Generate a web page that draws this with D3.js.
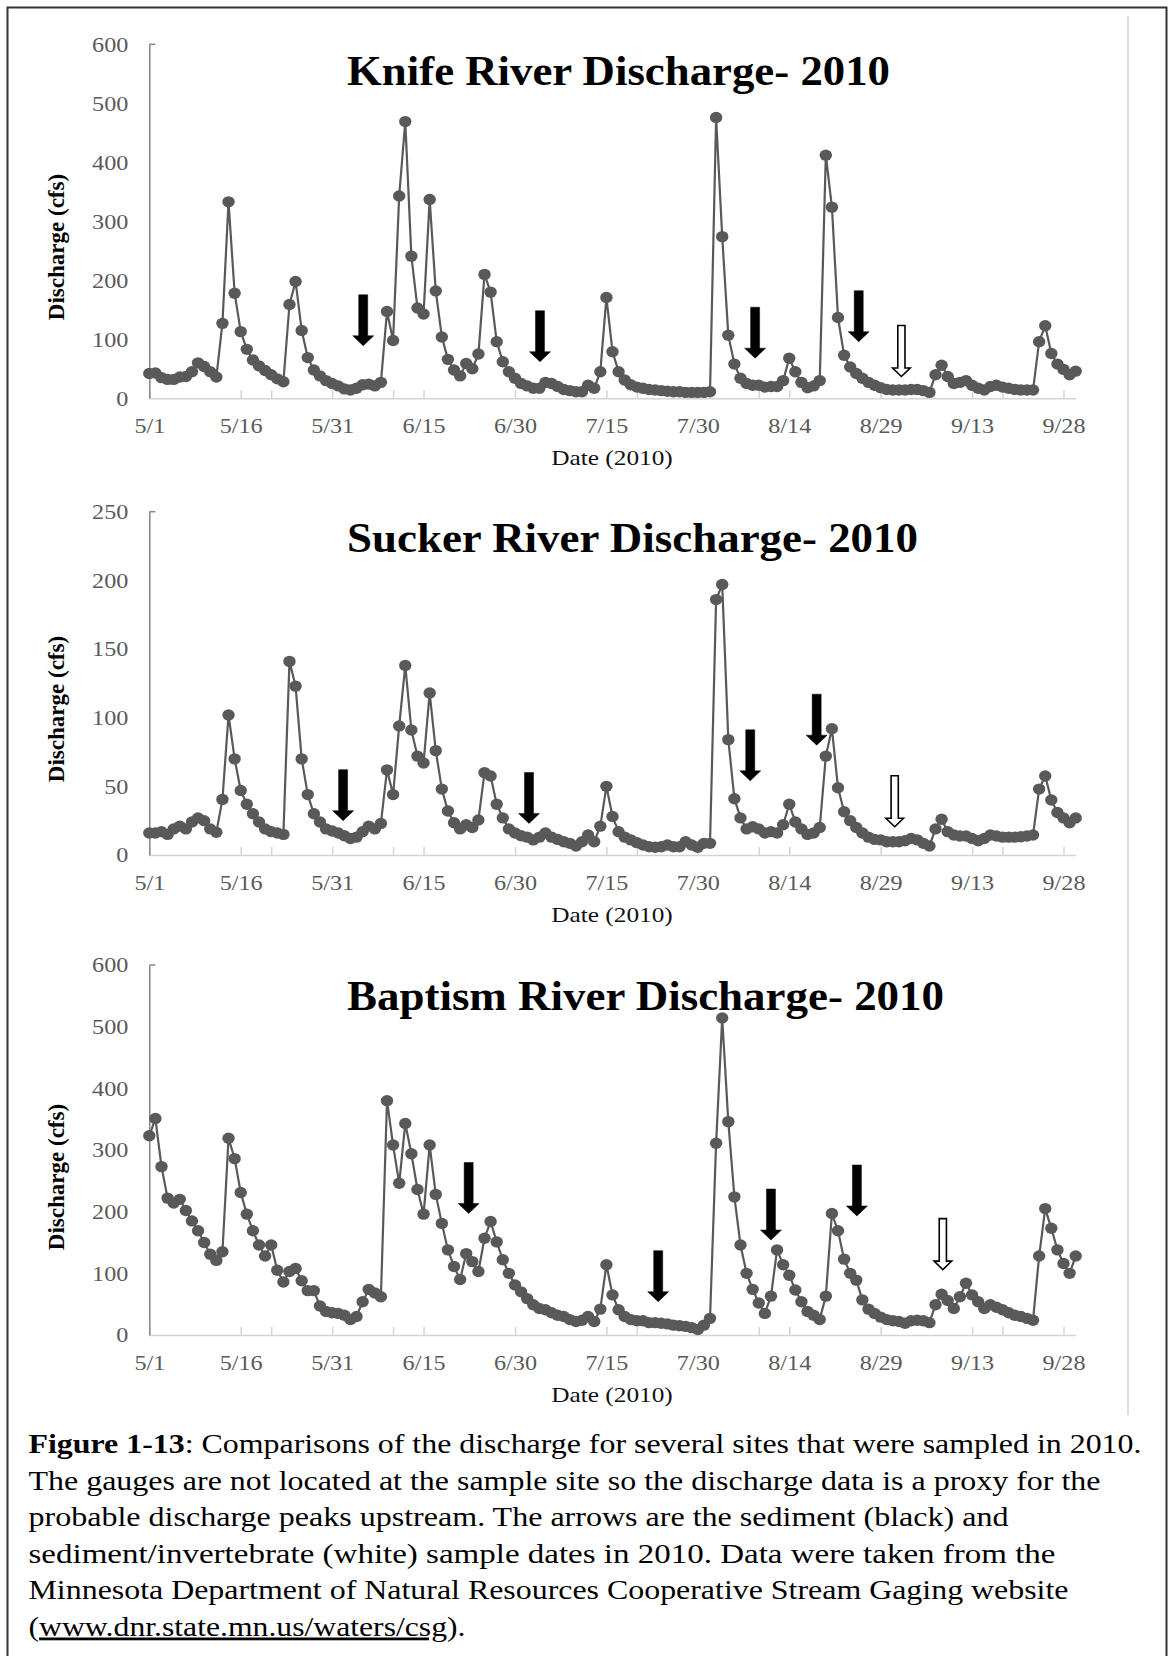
<!DOCTYPE html>
<html>
<head>
<meta charset="utf-8">
<script src="https://cdn.jsdelivr.net/npm/d3@7"></script>
<style>
  body { margin: 0; background: #fff; }
  svg { display: block; }
  text { font-family: "Liberation Serif", "Times New Roman", serif; }
</style>
</head>
<body>
<svg id="fig" width="1170" height="1656"></svg>
<script>
// Daily discharge (cfs), 1 May – 30 Sep 2010, one value per day
const knife = [
  42, 43, 35, 32, 32, 36, 37, 45, 60, 54,
  45, 36, 127, 333, 178, 113, 83, 65, 55, 47,
  40, 33, 28, 159, 198, 115, 69, 48, 38, 30,
  25, 21, 16, 14, 17, 23, 24, 21, 27, 147,
  98, 343, 469, 241, 153, 143, 337, 182, 104, 66,
  48, 38, 59, 50, 75, 210, 180, 96, 62, 45,
  34, 25, 21, 17, 17, 27, 25, 20, 15, 13,
  11, 11, 22, 17, 45, 171, 79, 45, 31, 23,
  19, 17, 15, 14, 13, 12, 11, 11, 10, 10,
  10, 10, 11, 476, 274, 107, 58, 34, 25, 22,
  22, 19, 20, 20, 30, 68, 45, 27, 18, 21,
  30, 412, 324, 137, 73, 53, 42, 34, 27, 22,
  18, 15, 14, 14, 14, 15, 15, 13, 10, 40,
  56, 37, 25, 27, 30, 22, 17, 14, 20, 22,
  19, 17, 15, 14, 14, 14, 96, 123, 76, 58,
  49, 40, 46
];
const sucker = [
  16, 16, 17, 15, 19, 21, 19, 24, 27, 25,
  19, 16.5, 40.5, 102, 70, 47, 37, 30, 24, 19,
  17, 16, 15, 141, 123, 70, 44, 30, 24, 19,
  17.5, 16, 14, 12, 13, 17, 21, 19, 23, 62,
  44, 94, 138, 91, 72, 67, 118, 76, 48, 32,
  23.5, 19, 22, 20, 25.5, 60, 57.5, 37, 27, 19,
  16, 14, 13, 11, 13, 16, 13, 11.4, 9.7, 8.5,
  6.5, 9.7, 14.6, 9.7, 21, 50, 28, 17, 13, 11,
  9, 7.3, 6, 5.6, 6, 7.3, 6, 6, 9.7, 7.3,
  5.6, 8.5, 8.5, 186, 197, 84, 41, 27, 19, 20.6,
  19, 16, 17, 16, 22, 37, 24, 19, 15, 16,
  20, 72, 92, 49, 31.5, 25, 20, 16, 13, 11.4,
  11, 9.7, 9.7, 9.7, 10.4, 12, 11, 8.5, 6.5, 19,
  26, 17, 14.6, 13.8, 13.8, 12, 10.4, 12, 14.6, 13.8,
  13, 13, 13, 13.3, 13.8, 14.6, 48, 57.5, 40, 31,
  27, 23.5, 27
];
const baptism = [
  323, 351, 273, 222, 214, 220, 202, 185, 169, 150,
  131, 121, 135, 319, 286, 231, 196, 169, 146, 128,
  146, 105, 86, 103, 108, 88, 72, 72, 47, 38,
  36, 35, 32, 25, 30, 54, 74, 68, 62, 380,
  308, 246, 343, 294, 236, 196, 308, 228, 181, 138,
  111, 90, 132, 119, 103, 157, 184, 151, 122, 100,
  81, 70, 59, 49, 43, 41, 36, 32, 30, 25,
  22, 24, 30, 22, 42, 114, 65, 41, 30, 25,
  23, 23, 20, 20, 19, 18, 16, 15, 14, 12,
  9, 16, 27, 311, 514, 346, 224, 146, 100, 74,
  52, 35, 63, 138, 114, 97, 73, 54, 38, 32,
  25, 63, 197, 169, 123, 100, 89, 57, 42, 35,
  29, 25, 23, 22, 19, 23, 24, 23, 20, 49,
  66, 56, 43, 62, 84, 65, 54, 43, 49, 45,
  41, 36, 32, 30, 27, 24, 128, 205, 173, 138,
  116, 100, 128
];

// Sample dates marked with arrows: days after 1 May, discharge level at the arrow tip
const knifeSamples   = [[35.1, 89, "sediment"], [64.1, 62, "sediment"], [99.4, 68, "sediment"], [116.4, 96, "sediment"], [123.4, 37, "invertebrate"]];
const suckerSamples  = [[31.8, 25, "sediment"], [62.3, 23, "sediment"], [98.6, 54, "sediment"], [109.5, 80, "sediment"], [122.3, 20.6, "invertebrate"]];
const baptismSamples = [[52.4, 197, "sediment"], [83.5, 54, "sediment"], [102, 154, "sediment"], [116.1, 193, "sediment"], [130.2, 106, "invertebrate"]];

// Axis labels
const dateLabels = ["5/1", "5/16", "5/31", "6/15", "6/30", "7/15", "7/30", "8/14", "8/29", "9/13", "9/28"];
const minorTickDays = [20, 40, 80, 100, 140];
const knifeTicks = [0, 100, 200, 300, 400, 500, 600];
const suckerTicks = [0, 50, 100, 150, 200, 250];
const baptismTicks = [0, 100, 200, 300, 400, 500, 600];
const titles = ["Knife River Discharge- 2010", "Sucker River Discharge- 2010", "Baptism River Discharge- 2010"];

const captionLines = [
  [["Figure 1-13", "b"], [": Comparisons of the discharge for several sites that were sampled in 2010.", ""]],
  [["The gauges are not located at the sample site so the discharge data is a proxy for the", ""]],
  [["probable discharge peaks upstream. The arrows are the sediment (black) and", ""]],
  [["sediment/invertebrate (white) sample dates in 2010. Data were taken from the", ""]],
  [["Minnesota Department of Natural Resources Cooperative Stream Gaging website", ""]],
  [["(", ""], ["www.dnr.state.mn.us/waters/csg", "u"], [").", ""]]
];

const svg = d3.select("#fig");
const start = new Date(2010, 4, 1);
const end = new Date(2010, 8, 30);
const x = d3.scaleTime().domain([start, end]).range([149.3, 1075.7]);
const day = i => d3.timeDay.offset(start, i);
const dayF = f => new Date(start.getTime() + f * 864e5);

// widen glyphs slightly, like the original typesetting
function stretch(sel, k) {
  sel.each(function () {
    const w = this.getComputedTextLength();
    this.setAttribute("textLength", w * k);
    this.setAttribute("lengthAdjust", "spacingAndGlyphs");
  });
}

const GREY = "#595959";

const panels = [
  { values: knife, samples: knifeSamples, ticks: knifeTicks, top: 44.3, bottom: 398.3, title: titles[0], titleY: 85, titleW: 543, ytitleY: 247 },
  { values: sucker, samples: suckerSamples, ticks: suckerTicks, top: 511.7, bottom: 855, title: titles[1], titleY: 551.7, titleW: 571, ytitleY: 709 },
  { values: baptism, samples: baptismSamples, ticks: baptismTicks, top: 965, bottom: 1335, title: titles[2], titleY: 1010, titleW: 597, ytitleY: 1177 }
];

// outer frame and the light chart-area edge
svg.append("rect").attr("x", 7.5).attr("y", 7.5).attr("width", 1159).attr("height", 1680)
  .attr("fill", "none").attr("stroke", "#333").attr("stroke-width", 2);
svg.append("line").attr("x1", 1128).attr("x2", 1128).attr("y1", 16).attr("y2", 1415)
  .attr("stroke", "#cfcfcf").attr("stroke-width", 1.5);

panels.forEach(p => {
  const y = d3.scaleLinear().domain([0, d3.max(p.ticks)]).range([p.bottom, p.top]);
  const g = svg.append("g");

  // x axis: labelled every 15 days plus extra marks every 20 days
  const labelDays = dateLabels.map((_, i) => i * 15);
  const tickDays = Array.from(new Set(labelDays.concat(minorTickDays))).sort((a, b) => a - b);
  const xAxis = d3.axisBottom(x)
    .tickValues(tickDays.map(day))
    .tickSizeInner(-8).tickSizeOuter(0)
    .tickFormat(d => {
      const i = Math.round((d - start) / 864e5);
      return i % 15 === 0 ? dateLabels[i / 15] : "";
    });
  const gx = g.append("g").attr("transform", `translate(0,${p.bottom})`).call(xAxis);
  gx.select(".domain").attr("stroke", "#d4d4d4").attr("stroke-width", 1.5);
  gx.selectAll(".tick line").attr("stroke", "#d4d4d4").attr("stroke-width", 1.5);
  gx.selectAll(".tick text").attr("y", 35).attr("dy", 0)
    .attr("fill", GREY).attr("font-size", 21).attr("font-family", "Liberation Serif");
  stretch(gx.selectAll(".tick text"), 1.15);

  // y axis
  const yAxis = d3.axisLeft(y).tickValues(p.ticks).tickSize(0).tickPadding(21).tickFormat(d3.format("d"));
  const gy = g.append("g").attr("transform", `translate(${x.range()[0]},0)`).call(yAxis);
  gy.select(".domain").attr("stroke", "#868686").attr("stroke-width", 1.5);
  gy.selectAll(".tick text").attr("fill", GREY).attr("font-size", 21).attr("font-family", "Liberation Serif");
  stretch(gy.selectAll(".tick text"), 1.15);
  g.append("line").attr("x1", x.range()[0]).attr("x2", x.range()[0] + 6)
    .attr("y1", p.top).attr("y2", p.top).attr("stroke", "#868686").attr("stroke-width", 1.5);

  // axis titles
  g.append("text").attr("transform", `translate(64,${p.ytitleY}) rotate(-90)`)
    .attr("text-anchor", "middle").attr("font-size", 23).attr("font-weight", "bold")
    .text("Discharge (cfs)");
  const xt = g.append("text").attr("x", 612).attr("y", p.bottom + 67).attr("text-anchor", "middle")
    .attr("font-size", 22).attr("fill", "#111").text("Date (2010)");
  stretch(xt, 1.15);

  // chart title
  g.append("text").attr("x", 347).attr("y", p.titleY).attr("font-size", 42).attr("font-weight", "bold")
    .attr("textLength", p.titleW).attr("lengthAdjust", "spacingAndGlyphs").text(p.title);

  // discharge line and markers
  const line = d3.line().x((d, i) => x(day(i))).y(d => y(d));
  g.append("path").datum(p.values).attr("d", line)
    .attr("fill", "none").attr("stroke", GREY).attr("stroke-width", 2.2).attr("stroke-linejoin", "round");
  g.selectAll("ellipse").data(p.values).join("ellipse")
    .attr("cx", (d, i) => x(day(i))).attr("cy", d => y(d))
    .attr("rx", 6.2).attr("ry", 5.7).attr("fill", GREY);

  // sample arrows (tip points down at the marked level)
  p.samples.forEach(([dd, v, kind]) => {
    const tx = x(dayF(dd)), ty = y(v);
    const white = kind === "invertebrate";
    const sw = white ? 3.6 : 4.5, hw = white ? 8.8 : 10.5, hh = white ? 8.5 : 10, len = 51;
    const pts = [
      [tx - sw, ty - len], [tx + sw, ty - len], [tx + sw, ty - hh], [tx + hw, ty - hh],
      [tx, ty], [tx - hw, ty - hh], [tx - sw, ty - hh]
    ];
    g.append("path").attr("d", "M" + pts.map(q => q.join(",")).join("L") + "Z")
      .attr("fill", white ? "#fff" : "#000")
      .attr("stroke", "#000").attr("stroke-width", white ? 1.6 : 0.5).attr("stroke-linejoin", "miter");
  });
});

// caption
const capWidths = [1113, 1072, 980, 1027, 1040, 437];
captionLines.forEach((segs, li) => {
  const t = svg.append("text").attr("x", 28.5).attr("y", 1453 + li * 36.5)
    .attr("font-size", 28).attr("fill", "#000")
    .attr("textLength", capWidths[li]).attr("lengthAdjust", "spacingAndGlyphs");
  segs.forEach(([s, style]) => {
    const ts = t.append("tspan").text(s);
    if (style === "b") ts.attr("font-weight", "bold");
    if (style === "u") ts.attr("text-decoration", "underline");
  });
});
</script>
</body>
</html>
